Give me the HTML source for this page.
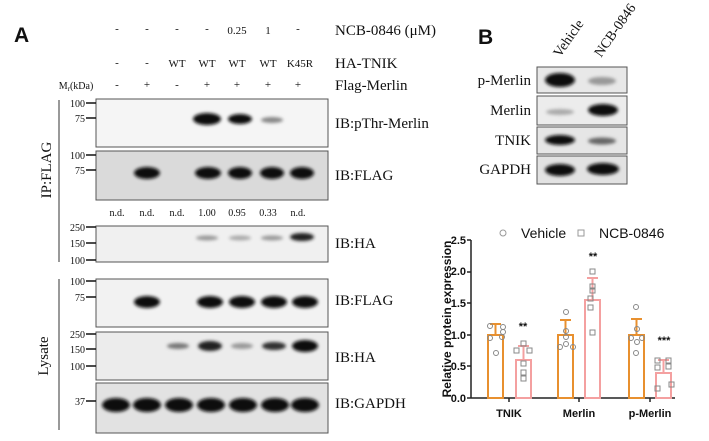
<!DOCTYPE html>
<html><head><meta charset="utf-8"><style>
html,body{margin:0;padding:0;background:#fff;}
svg{display:block;}
.s{font-family:"Liberation Serif",serif;fill:#111;}
.a{font-family:"Liberation Sans",sans-serif;fill:#111;}
</style></head><body>
<svg width="709" height="441" viewBox="0 0 709 441" xmlns="http://www.w3.org/2000/svg">
<defs>
<filter id="b" x="-50%" y="-100%" width="200%" height="300%"><feGaussianBlur stdDeviation="1.6"/></filter>
</defs>
<text x="14" y="42" class="a" font-size="21" font-weight="bold">A</text>
<g class="s" font-size="11" text-anchor="middle">
<text x="117" y="32">-</text><text x="147" y="32">-</text><text x="177" y="32">-</text><text x="207" y="32">-</text><text x="237" y="34">0.25</text><text x="268" y="34">1</text><text x="298" y="32">-</text>
<text x="117" y="66">-</text><text x="147" y="66">-</text><text x="177" y="67">WT</text><text x="207" y="67">WT</text><text x="237" y="67">WT</text><text x="268" y="67">WT</text><text x="300" y="67">K45R</text>
<text x="117" y="88">-</text><text x="147" y="88">+</text><text x="177" y="88">-</text><text x="207" y="88">+</text><text x="237" y="88">+</text><text x="268" y="88">+</text><text x="298" y="88">+</text>
<text x="76" y="89" font-size="10">M<tspan font-size="7" dy="2">r</tspan><tspan dy="-2">(kDa)</tspan></text>
<text x="117" y="216" font-size="10">n.d.</text><text x="147" y="216" font-size="10">n.d.</text><text x="177" y="216" font-size="10">n.d.</text><text x="207" y="216" font-size="10">1.00</text><text x="237" y="216" font-size="10">0.95</text><text x="268" y="216" font-size="10">0.33</text><text x="298" y="216" font-size="10">n.d.</text>
</g>
<g class="s" font-size="15">
<text x="335" y="35">NCB-0846 (μM)</text>
<text x="335" y="68">HA-TNIK</text>
<text x="335" y="90">Flag-Merlin</text>
<text x="335" y="128">IB:pThr-Merlin</text>
<text x="335" y="180">IB:FLAG</text>
<text x="335" y="248">IB:HA</text>
<text x="335" y="305">IB:FLAG</text>
<text x="335" y="362">IB:HA</text>
<text x="335" y="408">IB:GAPDH</text>
</g>
<!-- side labels -->
<line x1="59" y1="100" x2="59" y2="262" stroke="#333" stroke-width="1"/>
<line x1="59" y1="279" x2="59" y2="430" stroke="#333" stroke-width="1"/>
<text class="s" font-size="15" transform="translate(51,170) rotate(-90)" text-anchor="middle">IP:FLAG</text>
<text class="s" font-size="15" transform="translate(48,356) rotate(-90)" text-anchor="middle">Lysate</text>
<!-- blots -->
<g stroke="#555" stroke-width="1">
<rect x="96" y="99" width="232" height="48" fill="#f5f5f5"/>
<rect x="96" y="151" width="232" height="49" fill="#dadada"/>
<rect x="96" y="226" width="232" height="36" fill="#f0f0f0"/>
<rect x="96" y="279" width="232" height="48" fill="#f2f2f2"/>
<rect x="96" y="332" width="232" height="48" fill="#ececec"/>
<rect x="96" y="383" width="232" height="50" fill="#e2e2e2"/>
</g>
<g filter="url(#b)">
<ellipse cx="207" cy="119" rx="14" ry="6" fill="#111"/><ellipse cx="240" cy="119" rx="12" ry="5" fill="#111"/><ellipse cx="272" cy="120" rx="11" ry="3" fill="#888"/>
<ellipse cx="147" cy="173" rx="13" ry="6" fill="#111"/><ellipse cx="208" cy="173" rx="13" ry="6" fill="#111"/><ellipse cx="240" cy="173" rx="12" ry="6" fill="#111"/><ellipse cx="272" cy="173" rx="12" ry="6" fill="#111"/><ellipse cx="302" cy="173" rx="12" ry="6" fill="#111"/>
<ellipse cx="207" cy="238" rx="11" ry="2.5" fill="#999"/><ellipse cx="240" cy="238" rx="11" ry="2.5" fill="#aaa"/><ellipse cx="272" cy="238" rx="11" ry="2.5" fill="#999"/><ellipse cx="302" cy="237" rx="12" ry="4" fill="#222"/>
<ellipse cx="147" cy="302" rx="13" ry="6" fill="#111"/><ellipse cx="210" cy="302" rx="13" ry="6" fill="#111"/><ellipse cx="242" cy="302" rx="13" ry="6" fill="#111"/><ellipse cx="274" cy="302" rx="13" ry="6" fill="#111"/><ellipse cx="305" cy="302" rx="13" ry="6" fill="#111"/>
<ellipse cx="178" cy="346" rx="11" ry="3" fill="#777"/><ellipse cx="210" cy="346" rx="12" ry="5" fill="#222"/><ellipse cx="242" cy="346" rx="11" ry="3" fill="#999"/><ellipse cx="274" cy="346" rx="12" ry="4" fill="#333"/><ellipse cx="305" cy="346" rx="13" ry="6" fill="#111"/>
<ellipse cx="116" cy="405" rx="14" ry="7" fill="#0a0a0a"/><ellipse cx="147" cy="405" rx="14" ry="7" fill="#0a0a0a"/><ellipse cx="179" cy="405" rx="14" ry="7" fill="#0a0a0a"/><ellipse cx="211" cy="405" rx="14" ry="7" fill="#0a0a0a"/><ellipse cx="243" cy="405" rx="14" ry="7" fill="#0a0a0a"/><ellipse cx="275" cy="405" rx="14" ry="7" fill="#0a0a0a"/><ellipse cx="305" cy="405" rx="14" ry="7" fill="#0a0a0a"/>
</g>
<!-- markers -->
<g stroke="#111" stroke-width="1.5">
<line x1="86" y1="103" x2="96" y2="103"/><line x1="86" y1="118" x2="96" y2="118"/>
<line x1="86" y1="155" x2="96" y2="155"/><line x1="86" y1="170" x2="96" y2="170"/>
<line x1="86" y1="227" x2="96" y2="227"/><line x1="86" y1="243" x2="96" y2="243"/><line x1="86" y1="260" x2="96" y2="260"/>
<line x1="86" y1="281" x2="96" y2="281"/><line x1="86" y1="297" x2="96" y2="297"/>
<line x1="86" y1="334" x2="96" y2="334"/><line x1="86" y1="349" x2="96" y2="349"/><line x1="86" y1="366" x2="96" y2="366"/>
<line x1="86" y1="401" x2="96" y2="401"/>
</g>
<g class="s" font-size="10" text-anchor="end">
<text x="85" y="107">100</text><text x="85" y="122">75</text>
<text x="85" y="159">100</text><text x="85" y="174">75</text>
<text x="85" y="231">250</text><text x="85" y="247">150</text><text x="85" y="264">100</text>
<text x="85" y="285">100</text><text x="85" y="301">75</text>
<text x="85" y="338">250</text><text x="85" y="353">150</text><text x="85" y="370">100</text>
<text x="85" y="405">37</text>
</g>
<!-- Panel B -->
<text x="478" y="44" class="a" font-size="21" font-weight="bold">B</text>
<text class="s" font-size="14" transform="translate(560,58) rotate(-55)">Vehicle</text>
<text class="s" font-size="14" transform="translate(601,58) rotate(-55)">NCB-0846</text>
<g stroke="#555" stroke-width="1">
<rect x="537" y="67" width="90" height="26" fill="#e8e8e8"/>
<rect x="537" y="96" width="90" height="29" fill="#ececec"/>
<rect x="537" y="127" width="90" height="27" fill="#e6e6e6"/>
<rect x="537" y="156" width="90" height="28" fill="#e2e2e2"/>
</g>
<g filter="url(#b)">
<ellipse cx="560" cy="80" rx="15" ry="7" fill="#0a0a0a"/><ellipse cx="602" cy="81" rx="14" ry="4" fill="#999"/>
<ellipse cx="560" cy="112" rx="14" ry="3" fill="#aaa"/><ellipse cx="603" cy="110" rx="15" ry="6" fill="#111"/>
<ellipse cx="560" cy="140" rx="15" ry="5" fill="#111"/><ellipse cx="602" cy="141" rx="14" ry="3.5" fill="#666"/>
<ellipse cx="560" cy="170" rx="15" ry="6" fill="#0a0a0a"/><ellipse cx="603" cy="169" rx="16" ry="6" fill="#0a0a0a"/>
</g>
<g class="s" font-size="15" text-anchor="end">
<text x="531" y="85">p-Merlin</text><text x="531" y="115">Merlin</text><text x="531" y="145">TNIK</text><text x="531" y="174">GAPDH</text>
</g>
<!-- bar chart -->
<g class="a" font-size="14">
<circle cx="503" cy="233" r="3" fill="none" stroke="#999"/><text x="521" y="238">Vehicle</text>
<rect x="578" y="230" width="6" height="6" fill="none" stroke="#999"/><text x="599" y="238">NCB-0846</text>
</g>
<text class="a" font-size="12" font-weight="bold" transform="translate(451,319) rotate(-90)" text-anchor="middle">Relative protein expression</text>
<g class="a" font-size="11" font-weight="bold" text-anchor="end">
<text x="466" y="244">2.5</text><text x="466" y="275">2.0</text><text x="466" y="307">1.5</text><text x="466" y="339">1.0</text><text x="466" y="370">0.5</text><text x="466" y="402">0.0</text>
</g>
<g stroke="#222" stroke-width="1.5">
<line x1="471" y1="240" x2="471" y2="398"/><line x1="471" y1="398" x2="675" y2="398"/>
<line x1="467" y1="240" x2="471" y2="240"/><line x1="467" y1="272" x2="471" y2="272"/><line x1="467" y1="303" x2="471" y2="303"/><line x1="467" y1="335" x2="471" y2="335"/><line x1="467" y1="366" x2="471" y2="366"/><line x1="467" y1="398" x2="471" y2="398"/>
<line x1="509" y1="398" x2="509" y2="402"/><line x1="579" y1="398" x2="579" y2="402"/><line x1="650" y1="398" x2="650" y2="402"/>
</g>
<g fill="none" stroke-width="2">
<g stroke="#e8902f">
<rect x="488" y="335" width="15" height="63"/><line x1="495.5" y1="335" x2="495.5" y2="324"/><line x1="490" y1="324" x2="501" y2="324"/>
<rect x="558" y="335" width="15" height="63"/><line x1="565.5" y1="335" x2="565.5" y2="320"/><line x1="560" y1="320" x2="571" y2="320"/>
<rect x="629" y="335" width="15" height="63"/><line x1="636.5" y1="335" x2="636.5" y2="319"/><line x1="631" y1="319" x2="642" y2="319"/>
</g>
<g stroke="#f4a0a0">
<rect x="516" y="360" width="15" height="38"/><line x1="523.5" y1="360" x2="523.5" y2="346"/><line x1="518" y1="346" x2="529" y2="346"/>
<rect x="585" y="300" width="15" height="98"/><line x1="592.5" y1="300" x2="592.5" y2="278"/><line x1="587" y1="278" x2="598" y2="278"/>
<rect x="656" y="373" width="15" height="25"/><line x1="663.5" y1="373" x2="663.5" y2="360"/><line x1="658" y1="360" x2="669" y2="360"/>
</g>
</g>
<g fill="none" stroke="#888" stroke-width="1">
<circle cx="490" cy="326" r="2.5"/><circle cx="490" cy="338" r="2.5"/><circle cx="496" cy="353" r="2.5"/><circle cx="503" cy="332" r="2.5"/><circle cx="503" cy="327" r="2.5"/><circle cx="502" cy="337" r="2.5"/>
<circle cx="560" cy="347" r="2.5"/><circle cx="566" cy="331" r="2.5"/><circle cx="566" cy="344" r="2.5"/><circle cx="573" cy="347" r="2.5"/><circle cx="566" cy="312" r="2.5"/><circle cx="566" cy="337" r="2.5"/>
<circle cx="636" cy="307" r="2.5"/><circle cx="631" cy="338" r="2.5"/><circle cx="637" cy="329" r="2.5"/><circle cx="642" cy="338" r="2.5"/><circle cx="637" cy="342" r="2.5"/><circle cx="636" cy="353" r="2.5"/>
<rect x="514" y="348" width="5" height="5"/><rect x="521" y="341" width="5" height="5"/><rect x="527" y="348" width="5" height="5"/><rect x="521" y="361" width="5" height="5"/><rect x="521" y="370" width="5" height="5"/><rect x="521" y="376" width="5" height="5"/>
<rect x="590" y="269" width="5" height="5"/><rect x="590" y="284" width="5" height="5"/><rect x="590" y="288" width="5" height="5"/><rect x="588" y="296" width="5" height="5"/><rect x="588" y="305" width="5" height="5"/><rect x="590" y="330" width="5" height="5"/>
<rect x="655" y="358" width="5" height="5"/><rect x="666" y="358" width="5" height="5"/><rect x="655" y="365" width="5" height="5"/><rect x="666" y="364" width="5" height="5"/><rect x="669" y="382" width="5" height="5"/><rect x="655" y="386" width="5" height="5"/>
</g>
<g class="a" font-size="11" font-weight="bold" text-anchor="middle">
<text x="523" y="330">**</text><text x="593" y="260">**</text><text x="664" y="344">***</text>
</g>
<g class="a" font-size="11" font-weight="bold" text-anchor="middle">
<text x="509" y="417">TNIK</text><text x="579" y="417">Merlin</text><text x="650" y="417">p-Merlin</text>
</g>
</svg>
</body></html>
